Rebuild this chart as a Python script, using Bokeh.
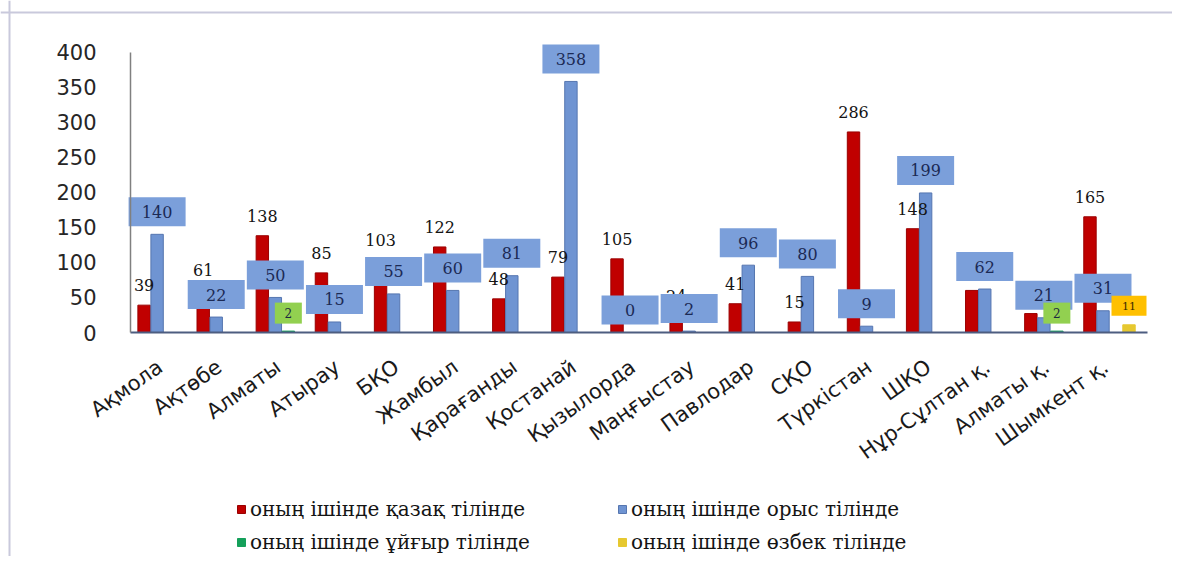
from bokeh.plotting import figure
from bokeh.models import (Range1d, ColumnDataSource, Legend, LegendItem, FixedTicker, Span)
from bokeh.transform import dodge
from bokeh.core.properties import value
from bokeh.embed import file_html
from bokeh.resources import INLINE

# ---------------- data ----------------
categories = ["Ақмола", "Ақтөбе", "Алматы", "Атырау", "БҚО", "Жамбыл", "Қарағанды",
              "Қостанай", "Қызылорда", "Маңғыстау", "Павлодар", "СҚО", "Түркістан",
              "ШҚО", "Нұр-Сұлтан қ.", "Алматы қ.", "Шымкент қ."]
kazakh = [39, 61, 138, 85, 103, 122, 48, 79, 105, 24, 41, 15, 286, 148, 60, 27, 165]
russian = [140, 22, 50, 15, 55, 60, 81, 358, 0, 2, 96, 80, 9, 199, 62, 21, 31]
uyghur = [0, 0, 2, 0, 0, 0, 0, 0, 0, 0, 0, 0, 0, 0, 0, 2, 0]
uzbek = [0, 0, 0, 0, 0, 0, 0, 0, 0, 0, 0, 0, 0, 0, 0, 0, 11]
series_names = ["оның ішінде қазақ тілінде", "оның ішінде орыс тілінде",
                "оның ішінде ұйғыр тілінде", "оның ішінде өзбек тілінде"]
y_ticks = [0, 50, 100, 150, 200, 250, 300, 350, 400]

# ---------------- layout constants (canvas px) ----------------
W, H = 1172, 556
PLOT_L, PLOT_R = 130, 1135      # left / right edge of the category area
ZERO_PX, TOP400_PX = 332, 51.5  # y=0 and y=400 lines
N = len(categories)
CAT_PX = (PLOT_R - PLOT_L) / N
PX = (ZERO_PX - TOP400_PX) / 400.0
X_START = -0.5 - PLOT_L / CAT_PX
X_END = N - 0.5 + (W - PLOT_R) / CAT_PX
Y_MAX = ZERO_PX / PX
Y_MIN = -(H - ZERO_PX) / PX

RED, BLUE, GREEN, YELLOW = "#C00000", "#6F94D2", "#14A05A", "#E6C830"
BOX_BLUE, BOX_GREEN, BOX_YELLOW = "#7B9FDA", "#92D050", "#FFC000"
OFFS = [-0.27, -0.05, 0.17, 0.39]
BW = 0.21

pos = list(range(N))
src = ColumnDataSource(dict(
    pos=pos, kaz=kazakh, rus=russian, uyg=uyghur, uzb=uzbek,
    kaz_s=[str(v) for v in kazakh], rus_s=[str(v) for v in russian],
    rus_box=[v + 22.5 / PX for v in russian],
))
nz_g = [i for i, v in enumerate(uyghur) if v]
src_g = ColumnDataSource(dict(pos=nz_g, y=[uyghur[i] + 18 / PX for i in nz_g],
                              s=[str(uyghur[i]) for i in nz_g]))
nz_y = [i for i, v in enumerate(uzbek) if v]
src_y = ColumnDataSource(dict(pos=nz_y, y=[uzbek[i] + 19 / PX for i in nz_y],
                              s=[str(uzbek[i]) for i in nz_y]))

p = figure(width=W, height=H, x_range=Range1d(X_START, X_END),
           y_range=Range1d(Y_MIN, Y_MAX), output_backend="svg", toolbar_location=None,
           min_border=0)
p.outline_line_color = None
p.xgrid.visible = False
p.ygrid.visible = False
p.background_fill_color = "white"
p.border_fill_color = "white"

# chart border (top and left edges visible in the picture)
p.add_layout(Span(location=Y_MAX - 12 / PX, dimension="width",
                  line_color="#c9c9dc", line_width=2))
p.add_layout(Span(location=X_START + 9 / CAT_PX, dimension="height",
                  line_color="#c9c9dc", line_width=2))

# axes
p.yaxis.fixed_location = -0.5
p.yaxis.ticker = FixedTicker(ticks=y_ticks)
p.yaxis.bounds = (0, 400)
p.yaxis.axis_line_color = "#808080"
p.yaxis.axis_line_width = 1.5
p.yaxis.major_tick_line_color = None
p.yaxis.minor_tick_line_color = None
p.yaxis.major_label_standoff = 28
p.yaxis.major_label_text_font = "DejaVu Sans"
p.yaxis.major_label_text_font_size = "21px"
p.yaxis.major_label_text_color = "#262626"

p.xaxis.fixed_location = 0
p.xaxis.ticker = FixedTicker(ticks=pos)
p.xaxis.major_label_overrides = {i: c for i, c in zip(pos, categories)}
p.xaxis.bounds = (-0.5, N - 0.3)
p.xaxis.axis_line_color = "#4d5d80"
p.xaxis.axis_line_width = 2
p.xaxis.major_tick_line_color = None
p.xaxis.minor_tick_line_color = None
p.xaxis.major_label_orientation = 0.62
p.xaxis.major_label_standoff = 26
p.xaxis.major_label_text_font = "DejaVu Sans"
p.xaxis.major_label_text_font_size = "21px"
p.xaxis.major_label_text_color = "#1a1a1a"

# bars
r_k = p.vbar(x=dodge("pos", OFFS[0]), top="kaz", width=BW, source=src,
             fill_color=RED, line_color="#9a0000")
r_r = p.vbar(x=dodge("pos", OFFS[1]), top="rus", width=BW, source=src,
             fill_color=BLUE, line_color="#5676b0")
r_g = p.vbar(x=dodge("pos", OFFS[2]), top="uyg", width=BW, source=src,
             fill_color=GREEN, line_color=GREEN)
r_y = p.vbar(x=dodge("pos", OFFS[3]), top="uzb", width=BW, source=src,
             fill_color=YELLOW, line_color=YELLOW)

# red labels (plain)
p.text(x=dodge("pos", OFFS[0]), y="kaz", text="kaz_s", source=src,
       y_offset=-20, text_align="center", text_baseline="middle",
       text_font=value("DejaVu Serif"), text_font_size="16px", text_color="#141414")

# blue boxed labels
p.rect(x=dodge("pos", OFFS[1]), y="rus_box", width=57, height=29,
       width_units="screen", height_units="screen", source=src,
       fill_color=BOX_BLUE, line_color=None)
p.text(x=dodge("pos", OFFS[1]), y="rus_box", text="rus_s", source=src,
       text_align="center", text_baseline="middle",
       text_font=value("DejaVu Serif"), text_font_size="16px", text_color="#1c2a55")

# green boxed labels
p.rect(x=dodge("pos", OFFS[2]), y="y", width=27, height=21,
       width_units="screen", height_units="screen", source=src_g,
       fill_color=BOX_GREEN, line_color=None)
p.text(x=dodge("pos", OFFS[2]), y="y", text="s", source=src_g,
       text_align="center", text_baseline="middle",
       text_font=value("DejaVu Serif"), text_font_size="12px", text_color="#1c2a40")

# yellow boxed labels
p.rect(x=dodge("pos", OFFS[3]), y="y", width=35, height=20,
       width_units="screen", height_units="screen", source=src_y,
       fill_color=BOX_YELLOW, line_color=None)
p.text(x=dodge("pos", OFFS[3]), y="y", text="s", source=src_y,
       text_align="center", text_baseline="middle",
       text_font=value("DejaVu Serif"), text_font_size="11px", text_color="#3a2a00")

# legend
legend = Legend(items=[LegendItem(label=series_names[0], renderers=[r_k]),
                       LegendItem(label=series_names[1], renderers=[r_r]),
                       LegendItem(label=series_names[2], renderers=[r_g]),
                       LegendItem(label=series_names[3], renderers=[r_y])],
                orientation="horizontal", ncols=2,
                location=(236, 2),
                glyph_width=10, glyph_height=10, label_standoff=4,
                label_width=358, label_height=23, spacing=9,
                padding=0, margin=0, border_line_color=None,
                background_fill_alpha=0,
                label_text_font="DejaVu Serif", label_text_font_size="20px",
                label_text_color="#141414")
p.add_layout(legend)

open("out.html", "w").write(file_html(p, INLINE))
